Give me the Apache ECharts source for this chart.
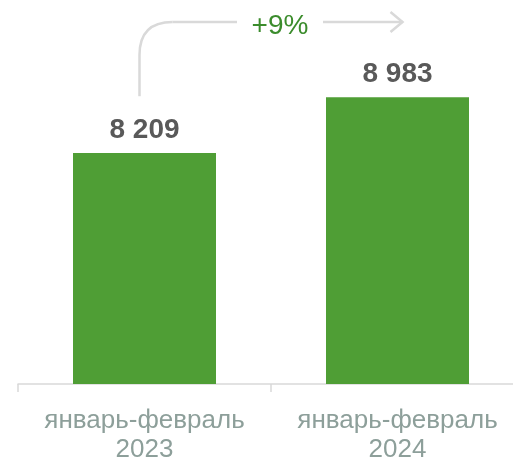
<!DOCTYPE html>
<html><head><meta charset="utf-8">
<script src="https://cdn.jsdelivr.net/npm/echarts@6/dist/echarts.min.js"></script>
<style>html,body{margin:0;padding:0;background:#fff}#c{width:513px;height:458px}</style>
</head><body><div id="c"></div>
<script>
const categories = ['январь-февраль\n2023', 'январь-февраль\n2024'];
const values = [8209, 8983];
const changeLabel = '+9%';

const chart = echarts.init(document.getElementById('c'), null, {renderer: 'canvas'});
const font = 'Liberation Sans, Arial, sans-serif';
chart.setOption({
  animation: false,
  grid: {left: 18, width: 506, top: 24, height: 360, outerBoundsMode: 'none', containLabel: false},
  xAxis: {
    type: 'category', data: categories,
    axisLine: {lineStyle: {color: '#d9d9d9', width: 1.5}},
    axisTick: {show: true, length: 8, lineStyle: {color: '#d9d9d9', width: 1.5}},
    axisLabel: {interval: 0, color: '#8d9f9a', fontSize: 26, fontFamily: font, lineHeight: 29, margin: 22}
  },
  yAxis: {type: 'value', min: 5000, max: 10000, show: false, splitLine: {show: false}},
  series: [{
    type: 'bar', data: values, barWidth: 143,
    itemStyle: {color: '#4f9e35'},
    label: {
      show: true, position: 'top', distance: 9,
      color: '#595959', fontSize: 28, fontWeight: 'bold', fontFamily: font,
      formatter: p => String(p.value).replace(/\B(?=(\d{3})+(?!\d))/g, ' ')
    }
  }]
});

const p1 = chart.convertToPixel({xAxisIndex: 0}, categories[0]);
const p2 = chart.convertToPixel({xAxisIndex: 0}, categories[1]);
const yTop2 = chart.convertToPixel({yAxisIndex: 0}, values[1]);
const xs = p1 - 5, xe = p2 + 5, yb = yTop2 - 1, yh = 22, r = 33;
const mid = (xs + xe) / 2 + 9;
const gap = 43;
const st = {stroke: '#d9d9d9', lineWidth: 2.5, fill: null};
chart.setOption({
  graphic: [
    {type: 'polyline', shape: {points: [[xs, yb], [xs, yh + r]]}, style: st},
    {type: 'bezierCurve', shape: {x1: xs, y1: yh + r, cpx1: xs, cpy1: yh, x2: xs + r, y2: yh}, style: st},
    {type: 'polyline', shape: {points: [[xs + r, yh], [mid - gap, yh]]}, style: st},
    {type: 'polyline', shape: {points: [[mid + gap, yh], [xe, yh]]}, style: st},
    {type: 'polyline', shape: {points: [[xe - 12, yh - 10], [xe, yh], [xe - 12, yh + 10]]}, style: st},
    {type: 'text', x: mid, y: yh + 4, style: {text: changeLabel, fill: '#3b8c2c', fontSize: 28,
      fontFamily: font, align: 'center', verticalAlign: 'middle'}}
  ]
});
</script></body></html>
